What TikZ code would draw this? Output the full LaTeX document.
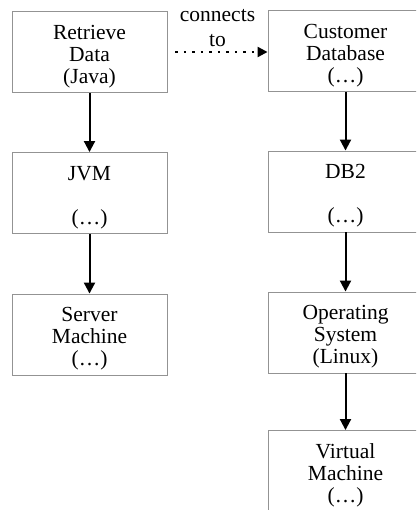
\documentclass[tikz,border=0pt]{standalone}
\usepackage{fontspec}
\setmainfont{Liberation Serif}
\usetikzlibrary{arrows.meta}

% first-line strut, pushes the box text down a little
\newcommand{\topstrut}{\rule{0pt}{23pt}}

\begin{document}
\begin{tikzpicture}[x=1pt,y=-1pt,
  box/.style={draw=gray!85, line width=0.9pt, minimum width=155pt, minimum height=81pt,
    align=center, inner sep=0pt, font=\rmfamily\fontsize{21.5}{22}\selectfont},
  flow/.style={line width=2pt, -{Triangle[length=11pt,width=11pt]}},
  link/.style={line width=2.2pt, dash pattern=on 2.2pt off 6.3pt, -{Triangle[length=10pt,width=10pt]}}]

\clip (0,0) rectangle (416,510);

\node[box](app) at (89.5,52) {\topstrut Retrieve\\Data\\(Java)};
\node[box](jvm) at (89.5,193) {\topstrut JVM\\\mbox{}\\(\dots)};
\node[box](srv) at (89.5,334.5) {\topstrut Server\\Machine\\(\dots)};

\node[box](cdb) at (345.5,51) {\topstrut Customer\\Database\\(\dots)};
\node[box](db2) at (345.5,191.5) {\topstrut DB2\\\mbox{}\\(\dots)};
\node[box](os) at (345.5,332.5) {\topstrut Operating\\System\\(Linux)};
\node[box](vm) at (345.5,471) {\topstrut Virtual\\Machine\\(\dots)};

\draw[flow] (app) -- (jvm);
\draw[flow] (jvm) -- (srv);

\draw[flow] (cdb) -- (db2);
\draw[flow] (db2) -- (os);
\draw[flow] (os) -- (vm);

\draw[link, shorten <=8pt] (app.east) -- (cdb.west |- app.east)
  node [midway, above=3pt, align=center, inner sep=1pt, font=\rmfamily\fontsize{21.5}{25}\selectfont] {connects\\to};

\end{tikzpicture}
\end{document}
